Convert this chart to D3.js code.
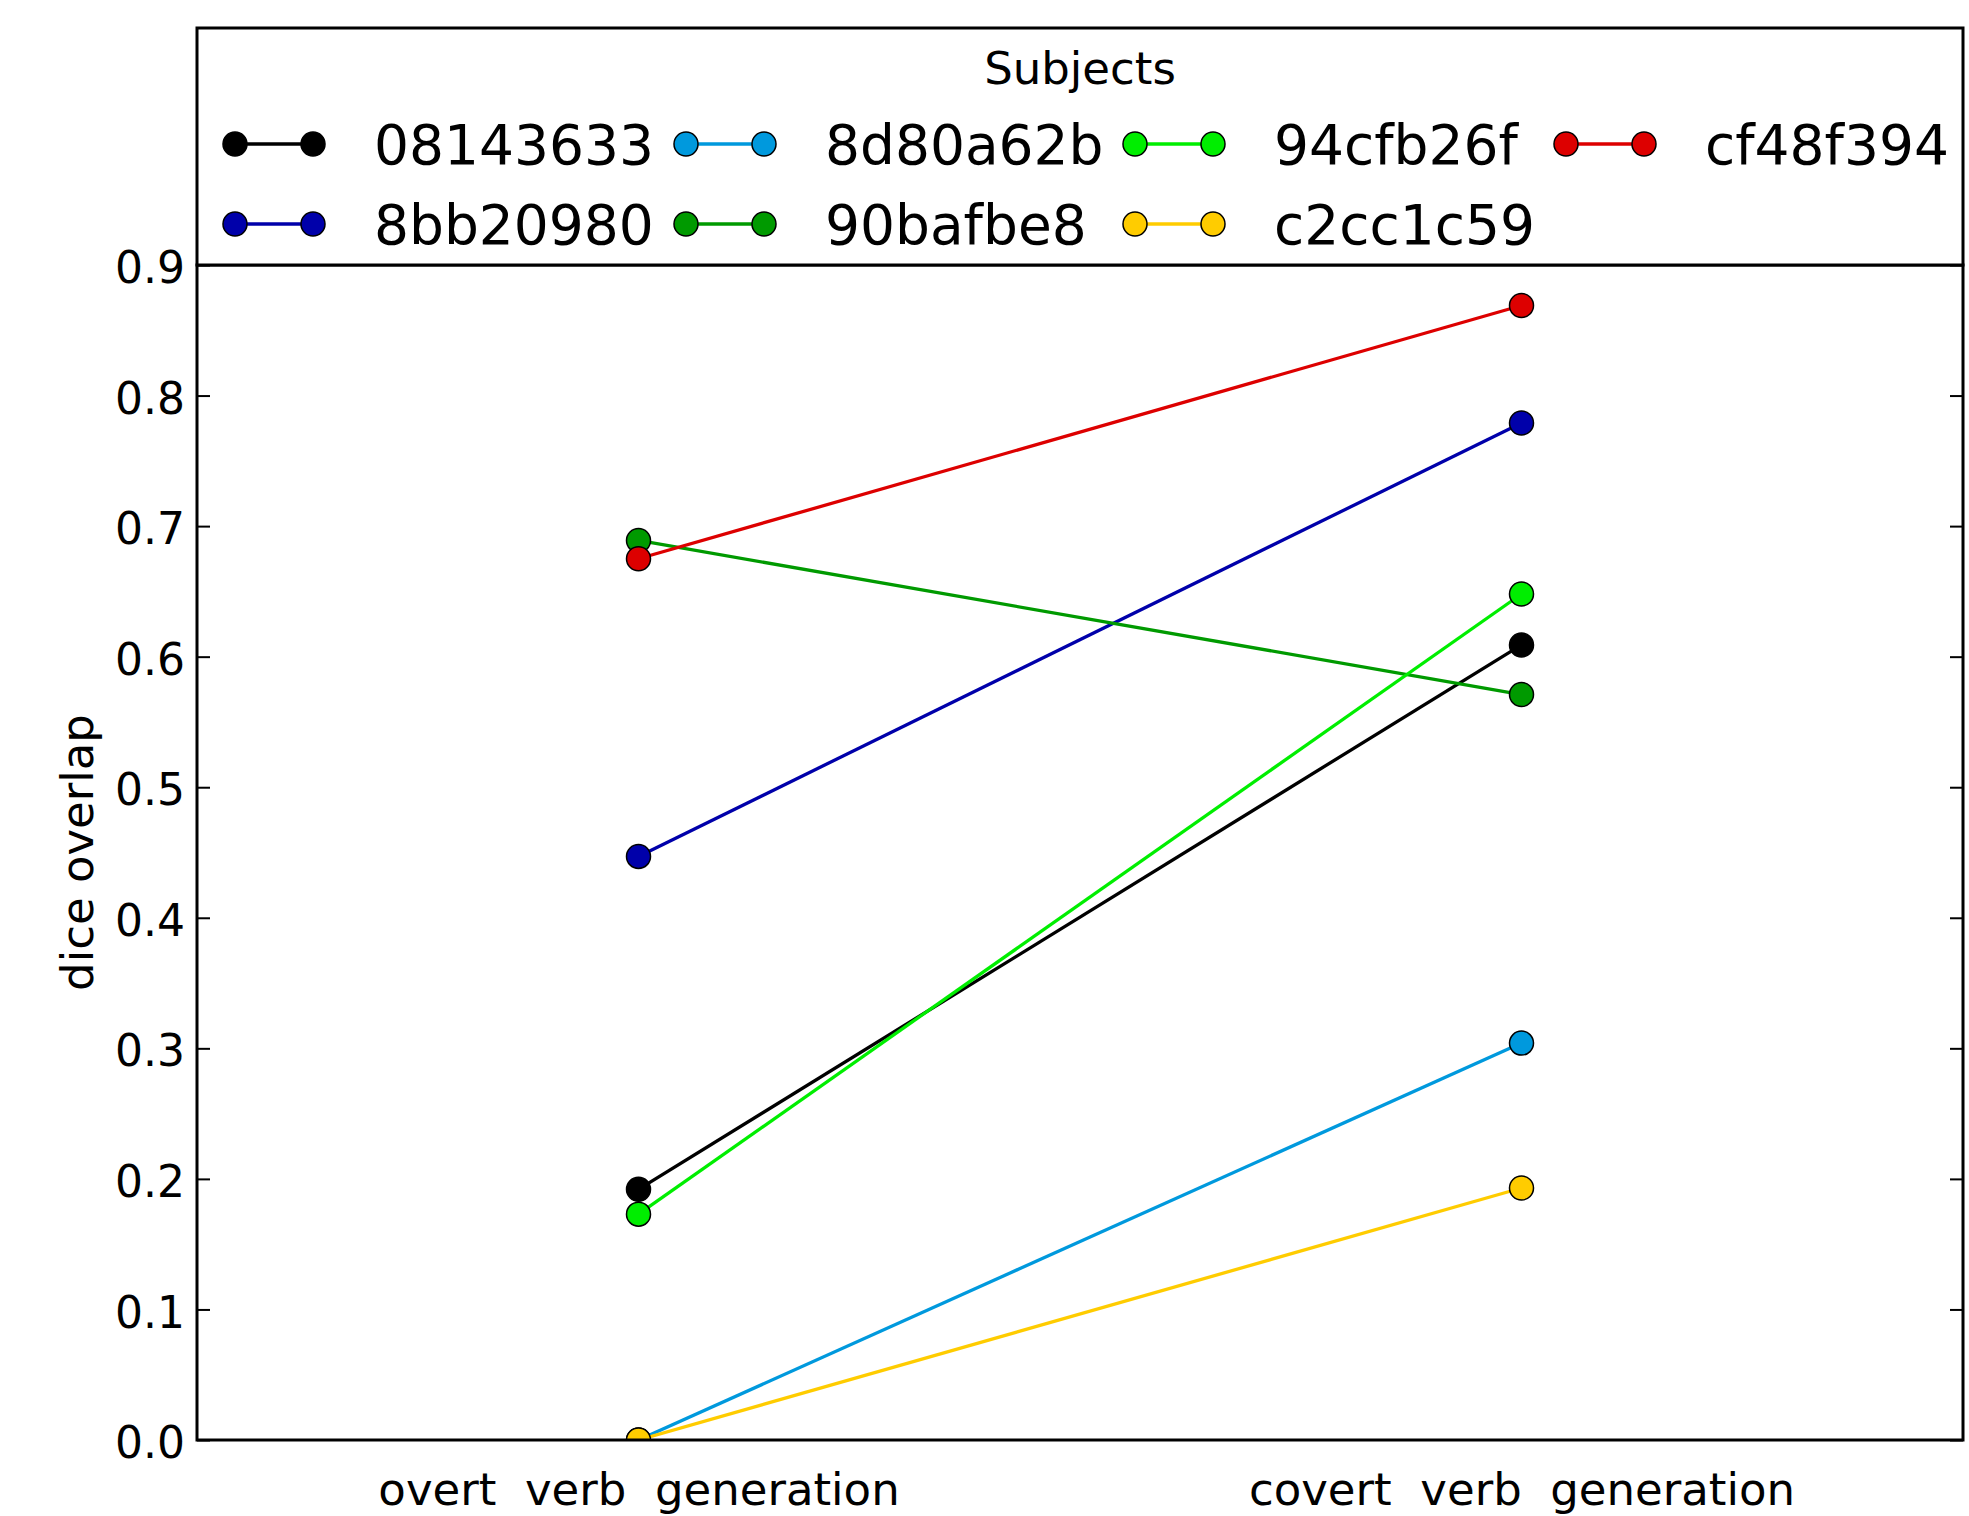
<!DOCTYPE html>
<html>
<head>
<meta charset="utf-8">
<script src="https://cdn.jsdelivr.net/npm/d3@7"></script>
<style>
    body { margin: 0; background: #fff; }
    text { font-family: "DejaVu Sans", sans-serif; fill: #000; }
</style>
</head>
<body>
<div id="chart"></div>
<script>
// data
const conditions = ['overt  verb  generation', 'covert  verb  generation'];
const subjects = ['08143633', '8bb20980', '8d80a62b', '90bafbe8', '94cfb26f', 'c2cc1c59', 'cf48f394'];
const colors = ['#000000', '#0000aa', '#0099dd', '#009a00', '#00ee00', '#ffcc00', '#dd0000'];
const overtValues = [0.192, 0.447, 0.0, 0.689, 0.173, 0.0, 0.675];
const covertValues = [0.609, 0.779, 0.304, 0.571, 0.648, 0.193, 0.869];
const yTicks = [0.0, 0.1, 0.2, 0.3, 0.4, 0.5, 0.6, 0.7, 0.8, 0.9];

(function () {
    const W = 1969, H = 1516;
    const margin = { top: 265, right: 6, bottom: 76, left: 197 };
    const width = W - margin.left - margin.right;
    const height = H - margin.top - margin.bottom;

    const svg = d3.select('#chart')
        .append('svg')
        .attr('width', W)
        .attr('height', H)
        .append('g')
        .attr('transform', `translate(${margin.left}, ${margin.top})`);

    const x = d3.scalePoint().domain(conditions).range([0, width]).padding(0.5);
    const y = d3.scaleLinear().domain([0, 0.9]).range([height, 0]);

    // one row per subject: [{cond, value}, ...]
    const series = subjects.map((s, i) => ({
        name: s,
        color: colors[i],
        points: [
            { cond: conditions[0], value: overtValues[i] },
            { cond: conditions[1], value: covertValues[i] }
        ]
    }));

    svg.append('clipPath').attr('id', 'plotClip')
        .append('rect').attr('width', width).attr('height', height);

    // y axis, ticks pointing inward
    const yAxis = svg.append('g')
        .attr('class', 'axis axis--y')
        .call(d3.axisRight(y).tickValues(yTicks).tickSize(13).tickFormat(d3.format('.1f')));
    yAxis.select('.domain').remove();
    yAxis.selectAll('.tick line').attr('stroke', '#000').attr('stroke-width', 2);
    yAxis.selectAll('.tick text')
        .attr('x', -12)
        .attr('dy', '0.4em')
        .attr('text-anchor', 'end')
        .style('font-size', '44px');

    // right side ticks
    const yAxisR = svg.append('g')
        .attr('transform', `translate(${width}, 0)`)
        .call(d3.axisLeft(y).tickValues(yTicks).tickSize(13).tickFormat(''));
    yAxisR.select('.domain').remove();
    yAxisR.selectAll('.tick line').attr('stroke', '#000').attr('stroke-width', 2);

    // x axis labels only
    const xAxis = svg.append('g')
        .attr('transform', `translate(0, ${height})`)
        .call(d3.axisBottom(x).tickSize(0));
    xAxis.select('.domain').remove();
    xAxis.selectAll('.tick text')
        .attr('y', 65)
        .attr('dy', 0)
        .style('white-space', 'pre')
        .style('font-size', '45px');

    // y label
    svg.append('text')
        .attr('transform', `translate(-104, ${height / 2}) rotate(-90)`)
        .attr('text-anchor', 'middle')
        .style('font-size', '45px')
        .text('dice overlap');

    // lines + markers
    const line = d3.line()
        .x(d => x(d.cond))
        .y(d => y(d.value));

    const plot = svg.append('g').attr('clip-path', 'url(#plotClip)');
    series.forEach(s => {
        const g = plot.append('g');
        g.append('path')
            .datum(s.points)
            .attr('fill', 'none')
            .attr('stroke', s.color)
            .attr('stroke-width', 3.3)
            .attr('d', line);
        g.selectAll('circle')
            .data(s.points)
            .enter()
            .append('circle')
            .attr('cx', d => x(d.cond))
            .attr('cy', d => y(d.value))
            .attr('r', 12)
            .attr('fill', s.color)
            .attr('stroke', '#000')
            .attr('stroke-width', 1.5);
    });

    // frame
    svg.append('rect')
        .attr('width', width)
        .attr('height', height)
        .attr('fill', 'none')
        .attr('stroke', '#000')
        .attr('stroke-width', 3);

    // legend above the axes (expanded over full width)
    const legendH = 237;
    const legend = svg.append('g').attr('transform', `translate(0, ${-legendH})`);
    legend.append('rect')
        .attr('width', width)
        .attr('height', legendH)
        .attr('fill', '#fff')
        .attr('stroke', '#000')
        .attr('stroke-width', 3);

    legend.append('text')
        .attr('x', width / 2)
        .attr('y', 56)
        .attr('text-anchor', 'middle')
        .style('font-size', '45px')
        .text('Subjects');

    const colX = [38, 489, 938, 1369];
    const rowY = [116, 196];
    const handleLen = 78;

    const items = legend.selectAll('.lineLegend')
        .data(series)
        .enter()
        .append('g')
        .attr('class', 'lineLegend')
        .attr('transform', (d, i) => `translate(${colX[Math.floor(i / 2)]}, ${rowY[i % 2]})`);

    items.append('line')
        .attr('x1', 0).attr('x2', handleLen)
        .attr('stroke', d => d.color)
        .attr('stroke-width', 3.3);
    items.selectAll('circle')
        .data(d => [0, handleLen].map(cx => ({ cx, color: d.color })))
        .enter()
        .append('circle')
        .attr('cx', d => d.cx)
        .attr('r', 12)
        .attr('fill', d => d.color)
        .attr('stroke', '#000')
        .attr('stroke-width', 1.5);
    items.append('text')
        .attr('x', 139)
        .attr('y', 20)
        .style('font-size', '55px')
        .text(d => d.name);
})();
</script>
</body>
</html>
